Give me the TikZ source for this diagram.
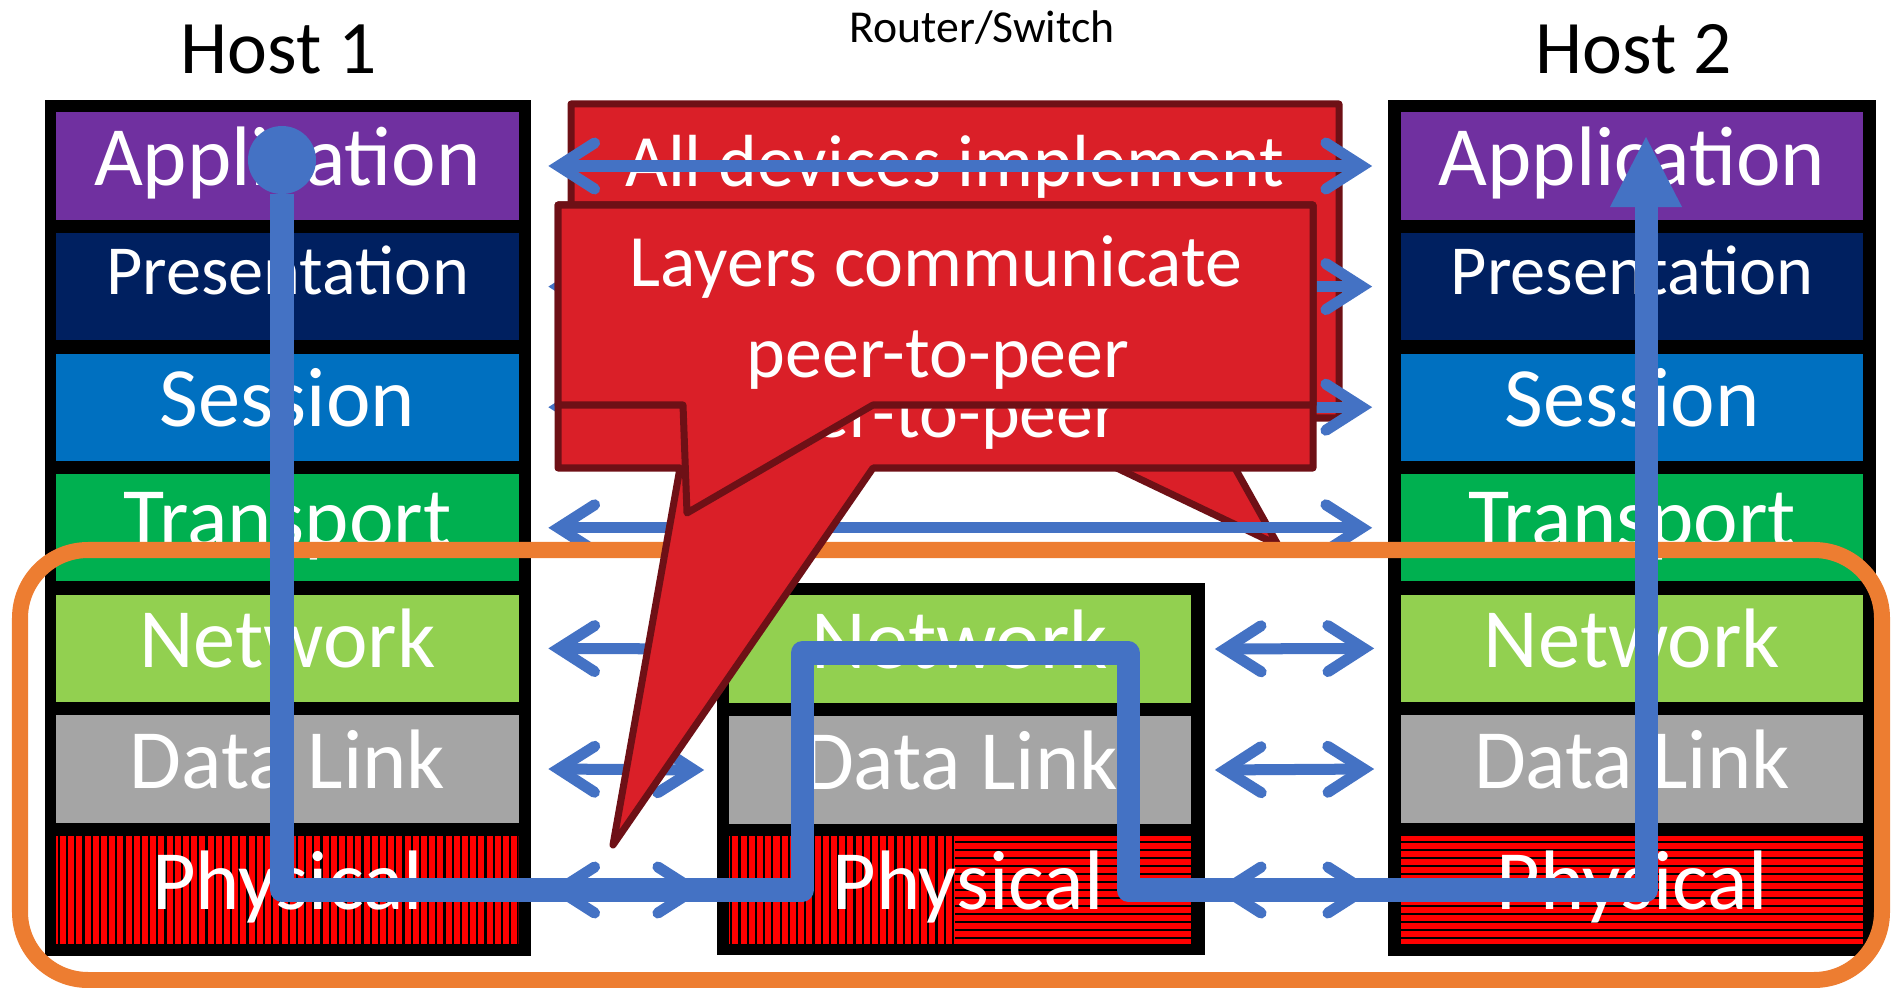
\documentclass[tikz,border=0pt]{standalone}
\usepackage{fontspec}
\setmainfont{Carlito}
\usepackage{tikz}
\usetikzlibrary{arrows.meta}

\definecolor{applcol}{HTML}{7030A0}
\definecolor{prescol}{HTML}{002060}
\definecolor{sesscol}{HTML}{0070C0}
\definecolor{transcol}{HTML}{00B050}
\definecolor{netwcol}{HTML}{92D050}
\definecolor{linkcol}{HTML}{A5A5A5}
\definecolor{physcol}{HTML}{FF0000}
\definecolor{bubblecol}{HTML}{DA1F28}
\definecolor{bubbleedge}{HTML}{6E1016}
\definecolor{pathblue}{HTML}{4472C4}
\definecolor{zonecol}{HTML}{ED7D31}

\tikzset{
  stack/.style={fill=black, inner sep=0pt},
  layer/.style={inner sep=0pt, minimum width=4.62cm, minimum height=1.07cm},
  appl/.style={fill=applcol},
  pres/.style={fill=prescol},
  sess/.style={fill=sesscol},
  trans/.style={fill=transcol},
  netw/.style={fill=netwcol},
  link/.style={fill=linkcol},
  physv/.style={fill=physcol, path picture={
      \foreach \k in {0,...,57}
        \draw[black, line width=0.022cm]
          ([xshift={\k*0.082cm+0.025cm}]path picture bounding box.south west) --
          ([xshift={\k*0.082cm+0.025cm}]path picture bounding box.north west);}},
  physh/.style={fill=physcol, path picture={
      \foreach \k in {0,...,13}
        \draw[black, line width=0.025cm]
          ([yshift={-\k*0.08cm-0.055cm}]path picture bounding box.north west) --
          ([yshift={-\k*0.08cm-0.055cm}]path picture bounding box.north east);}},
  lbl/.style={text=white, inner sep=0pt, anchor=base},
  big/.style={lbl, yshift=-0.19cm, font=\fontsize{24}{29}\selectfont},
  small/.style={lbl, yshift=-0.08cm, font=\fontsize{20}{24}\selectfont},
  hostlbl/.style={inner sep=0pt, anchor=base, font=\fontsize{21.5}{26}\selectfont},
  routerlbl/.style={inner sep=0pt, anchor=base, font=\fontsize{13}{16}\selectfont},
  bubble/.style={fill=bubblecol, draw=bubbleedge, line width=0.07cm, line join=round},
  bubbletext/.style={lbl, font=\fontsize{21}{25}\selectfont},
  peer/.style={draw=pathblue, line width=0.11cm,
    >={Straight Barb[length=0.36cm, width=0.46cm, line cap=round]}, <->},
  zone/.style={draw=zonecol, line width=0.16cm, rounded corners=0.68cm},
  datapath/.style={draw=pathblue, line width=0.23cm, line join=round,
    {Circle[length=0.68cm, line width=0pt]}-{Triangle[length=0.7cm, width=0.72cm, line width=0pt]}}
}

\begin{document}
\begin{tikzpicture}[x=0.01cm, y=-0.01cm]
  \useasboundingbox (0,0) rectangle (1893,988);

  \node[hostlbl] (h1lbl) at (279,74) {Host 1};
  \node[hostlbl] (h2lbl) at (1634,74) {Host 2};
  \node[routerlbl] (rlbl) at (982,43) {Router/Switch};

  \node[stack, minimum width=4.86cm, minimum height=8.56cm] (h1box) at (288,528) {};
  \node[stack, minimum width=4.88cm, minimum height=8.56cm] (h2box) at (1632,528) {};
  \node[stack, minimum width=4.88cm, minimum height=3.72cm] (rbox) at (961,769) {};

  \foreach \h/\x/\p in {h1/287.5/physv, h2/1632/physh}{
    \foreach \n/\s/\t/\f [count=\i from 0] in {app/appl/Application/big,
        pres/pres/Presentation/small, sess/sess/Session/big,
        trans/trans/Transport/big, net/netw/Network/big, link/link/Data Link/big}{
      \node[layer, \s] (\h\n) at (\x,{166+120.6*\i}) {};
      \node[\f] (\h\n t) at (\h\n.center) {\t};
    }
    \node[layer, \p] (\h phys) at (\x,890) {};
    \node[big] (\h phys t) at (\h phys.center) {Physical};
  }

  \node[layer, netw] (rnet) at (960,649) {};
  \node[big] (rnett) at (rnet.center) {Network};
  \node[layer, link] (rlink) at (960,770) {};
  \node[big] (rlinkt) at (rlink.center) {Data Link};
  \node[layer, physh] (rphys) at (960,890) {};
  \node[layer, physv, minimum width=2.26cm, anchor=west] (rphysv) at (rphys.west) {};
  \node[big] (rphyst) at ([xshift=0.08cm]rphys.center) {Physical};

  \draw[bubble] (571,104) -- (1339,104) -- (1339,418) -- (1207,418) -- (1278,545)
    -- (1012,418) -- (571,418) -- cycle;
  \node[bubbletext] (atext) at (955,187) {All devices implement};

  \foreach \n in {app,pres,sess,trans}
    \draw[peer] ([xshift=0.29cm]h1\n.east) -- ([xshift=-0.28cm]h2\n.west);
  \foreach \n in {net,link,phys}{
    \draw[peer] ([xshift=0.29cm]h1\n.east) -- ([xshift=-0.24cm]r\n.west);
    \draw[peer] ([xshift=0.23cm]r\n.east) -- ([xshift=-0.26cm]h2\n.west);
  }

  \draw[zone] (20,550) rectangle (1882,980);

  \draw[bubble] (558,205) -- (1313,205) -- (1313,468) -- (873,468) -- (613,845)
    -- (680,468) -- (558,468) -- cycle;
  \node[bubbletext] (btext) at (928,437) {peer-to-peer};

  \draw[bubble] (558,205) -- (1313,205) -- (1313,405) -- (873,405) -- (687,513)
    -- (683,405) -- (558,405) -- cycle;
  \node[bubbletext] (ctext1) at (936,287) {Layers communicate};
  \node[bubbletext] (ctext2) at (938,377) {peer-to-peer};

  \coordinate (start) at (282,126);
  \coordinate (rtin) at (802,653);
  \coordinate (rtout) at (1128,653);
  \coordinate (finish) at (1646,137);
  \draw[datapath] (start) -- (start |- h1phys) -| (rtin) -- (rtout)
    |- (finish |- h2phys) -- (finish);
\end{tikzpicture}
\end{document}
